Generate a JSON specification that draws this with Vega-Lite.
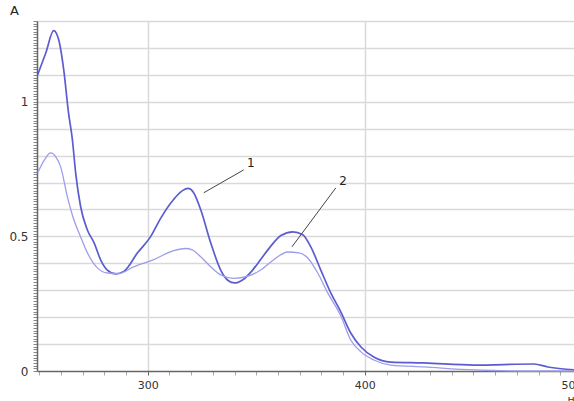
{
  "$schema": "https://vega.github.io/schema/vega-lite/v6.json",
  "width": 545,
  "height": 350,
  "autosize": {"type": "none"},
  "padding": {"left": 37, "top": 21, "right": -8, "bottom": 30},
  "background": "white",
  "config": {"view": {"stroke": null}, "font": "DejaVu Sans"},
  "datasets": {
    "curves": [
      {"wl": 249.3, "A": 1.100, "s": "1"},
      {"wl": 253.0, "A": 1.180, "s": "1"},
      {"wl": 256.7, "A": 1.264, "s": "1"},
      {"wl": 259.0, "A": 1.230, "s": "1"},
      {"wl": 261.3, "A": 1.119, "s": "1"},
      {"wl": 263.5, "A": 0.960, "s": "1"},
      {"wl": 265.3, "A": 0.859, "s": "1"},
      {"wl": 266.8, "A": 0.736, "s": "1"},
      {"wl": 269.1, "A": 0.610, "s": "1"},
      {"wl": 272.2, "A": 0.524, "s": "1"},
      {"wl": 275.3, "A": 0.476, "s": "1"},
      {"wl": 278.3, "A": 0.413, "s": "1"},
      {"wl": 281.4, "A": 0.375, "s": "1"},
      {"wl": 285.3, "A": 0.361, "s": "1"},
      {"wl": 289.0, "A": 0.370, "s": "1"},
      {"wl": 295.3, "A": 0.439, "s": "1"},
      {"wl": 301.4, "A": 0.500, "s": "1"},
      {"wl": 306.0, "A": 0.568, "s": "1"},
      {"wl": 312.0, "A": 0.638, "s": "1"},
      {"wl": 316.0, "A": 0.670, "s": "1"},
      {"wl": 318.6, "A": 0.678, "s": "1"},
      {"wl": 321.0, "A": 0.664, "s": "1"},
      {"wl": 324.4, "A": 0.599, "s": "1"},
      {"wl": 329.0, "A": 0.476, "s": "1"},
      {"wl": 333.6, "A": 0.375, "s": "1"},
      {"wl": 337.0, "A": 0.336, "s": "1"},
      {"wl": 340.0, "A": 0.327, "s": "1"},
      {"wl": 344.0, "A": 0.340, "s": "1"},
      {"wl": 348.0, "A": 0.372, "s": "1"},
      {"wl": 352.0, "A": 0.414, "s": "1"},
      {"wl": 356.5, "A": 0.462, "s": "1"},
      {"wl": 361.3, "A": 0.503, "s": "1"},
      {"wl": 366.8, "A": 0.517, "s": "1"},
      {"wl": 371.4, "A": 0.506, "s": "1"},
      {"wl": 375.1, "A": 0.461, "s": "1"},
      {"wl": 379.7, "A": 0.375, "s": "1"},
      {"wl": 384.3, "A": 0.290, "s": "1"},
      {"wl": 388.9, "A": 0.220, "s": "1"},
      {"wl": 393.5, "A": 0.141, "s": "1"},
      {"wl": 398.2, "A": 0.089, "s": "1"},
      {"wl": 404.1, "A": 0.052, "s": "1"},
      {"wl": 412.0, "A": 0.033, "s": "1"},
      {"wl": 427.2, "A": 0.030, "s": "1"},
      {"wl": 450.2, "A": 0.022, "s": "1"},
      {"wl": 477.9, "A": 0.026, "s": "1"},
      {"wl": 484.3, "A": 0.015, "s": "1"},
      {"wl": 496.3, "A": 0.004, "s": "1"},
      {"wl": 500.0, "A": 0.002, "s": "1"},
      {"wl": 249.3, "A": 0.736, "s": "2"},
      {"wl": 252.5, "A": 0.785, "s": "2"},
      {"wl": 255.3, "A": 0.810, "s": "2"},
      {"wl": 257.6, "A": 0.796, "s": "2"},
      {"wl": 259.9, "A": 0.758, "s": "2"},
      {"wl": 263.0, "A": 0.647, "s": "2"},
      {"wl": 266.0, "A": 0.561, "s": "2"},
      {"wl": 269.1, "A": 0.498, "s": "2"},
      {"wl": 272.2, "A": 0.439, "s": "2"},
      {"wl": 276.8, "A": 0.383, "s": "2"},
      {"wl": 281.4, "A": 0.364, "s": "2"},
      {"wl": 286.6, "A": 0.362, "s": "2"},
      {"wl": 293.5, "A": 0.387, "s": "2"},
      {"wl": 302.8, "A": 0.414, "s": "2"},
      {"wl": 312.0, "A": 0.447, "s": "2"},
      {"wl": 317.5, "A": 0.455, "s": "2"},
      {"wl": 320.5, "A": 0.450, "s": "2"},
      {"wl": 324.4, "A": 0.424, "s": "2"},
      {"wl": 329.0, "A": 0.387, "s": "2"},
      {"wl": 333.6, "A": 0.357, "s": "2"},
      {"wl": 339.6, "A": 0.344, "s": "2"},
      {"wl": 346.1, "A": 0.352, "s": "2"},
      {"wl": 352.0, "A": 0.375, "s": "2"},
      {"wl": 358.0, "A": 0.413, "s": "2"},
      {"wl": 364.5, "A": 0.442, "s": "2"},
      {"wl": 369.6, "A": 0.439, "s": "2"},
      {"wl": 373.7, "A": 0.420, "s": "2"},
      {"wl": 378.3, "A": 0.364, "s": "2"},
      {"wl": 382.9, "A": 0.290, "s": "2"},
      {"wl": 388.9, "A": 0.205, "s": "2"},
      {"wl": 393.5, "A": 0.115, "s": "2"},
      {"wl": 398.2, "A": 0.071, "s": "2"},
      {"wl": 404.1, "A": 0.041, "s": "2"},
      {"wl": 412.0, "A": 0.022, "s": "2"},
      {"wl": 427.2, "A": 0.015, "s": "2"},
      {"wl": 450.2, "A": 0.004, "s": "2"},
      {"wl": 473.3, "A": 0.000, "s": "2"},
      {"wl": 500.0, "A": 0.000, "s": "2"}
    ],
    "leaders": [
      {"wl": 325.8, "A": 0.662, "wl2": 344.2, "A2": 0.747},
      {"wl": 366.4, "A": 0.461, "wl2": 386.6, "A2": 0.680}
    ],
    "labels": [
      {"wl": 347.5, "A": 0.773, "t": "1"},
      {"wl": 389.9, "A": 0.706, "t": "2"}
    ]
  },
  "encoding": {
    "x": {
      "field": "wl", "type": "quantitative",
      "scale": {"domain": [249, 500], "nice": false, "zero": false},
      "axis": {
        "values": [250,260,270,280,290,300,310,320,330,340,350,360,370,380,390,400,410,420,430,440,450,460,470,480,490,500],
        "labelExpr": "datum.value % 100 == 0 ? datum.label : ''",
        "labelOverlap": false,
        "labelFontSize": 11,
        "labelColor": "#333",
        "labelPadding": 4,
        "labelAlign": {"condition": {"test": "datum.value == 500", "value": "right"}, "value": "center"},
        "labelFlush": false,
        "tickSize": 4,
        "tickColor": {"condition": {"test": "datum.value % 100 == 0", "value": "#666"}, "value": "#aaa"},
        "tickWidth": 1,
        "domainColor": "#666",
        "domainWidth": 1.5,
        "grid": true,
        "gridColor": "#d9d9d9",
        "gridWidth": 1.5,
        "gridOpacity": {"condition": {"test": "datum.value % 100 == 0", "value": 1}, "value": 0},
        "title": "нм",
        "titleX": 530,
        "titleY": 22,
        "titleAlign": "left",
        "titleBaseline": "top",
        "titleFontSize": 11,
        "titleFontWeight": "normal",
        "titleColor": "#333"
      }
    },
    "y": {
      "field": "A", "type": "quantitative",
      "scale": {"domain": [0, 1.3], "nice": false},
      "axis": {
        "values": [0,0.01,0.02,0.03,0.04,0.05,0.06,0.07,0.08,0.09,0.1,0.11,0.12,0.13,0.14,0.15,0.16,0.17,0.18,0.19,0.2,0.21,0.22,0.23,0.24,0.25,0.26,0.27,0.28,0.29,0.3,0.31,0.32,0.33,0.34,0.35,0.36,0.37,0.38,0.39,0.4,0.41,0.42,0.43,0.44,0.45,0.46,0.47,0.48,0.49,0.5,0.51,0.52,0.53,0.54,0.55,0.56,0.57,0.58,0.59,0.6,0.61,0.62,0.63,0.64,0.65,0.66,0.67,0.68,0.69,0.7,0.71,0.72,0.73,0.74,0.75,0.76,0.77,0.78,0.79,0.8,0.81,0.82,0.83,0.84,0.85,0.86,0.87,0.88,0.89,0.9,0.91,0.92,0.93,0.94,0.95,0.96,0.97,0.98,0.99,1,1.01,1.02,1.03,1.04,1.05,1.06,1.07,1.08,1.09,1.1,1.11,1.12,1.13,1.14,1.15,1.16,1.17,1.18,1.19,1.2,1.21,1.22,1.23,1.24,1.25,1.26,1.27,1.28,1.29,1.3],
        "labelExpr": "datum.value == 0 ? '0' : (abs(datum.value - 0.5) < 0.001 ? '0.5' : (abs(datum.value - 1) < 0.001 ? '1' : ''))",
        "labelOverlap": false,
        "labelFontSize": 12,
        "labelColor": "#333",
        "labelPadding": 5,
        "tickSize": 4,
        "tickColor": "#888",
        "tickWidth": 1,
        "domainColor": "#666",
        "domainWidth": 1.5,
        "grid": true,
        "gridColor": "#d9d9d9",
        "gridWidth": 1.5,
        "gridOpacity": {"condition": {"test": "datum.value > 0.05 && abs(datum.value * 10 - round(datum.value * 10)) < 0.001", "value": 1}, "value": 0},
        "title": "A",
        "titleAngle": 0,
        "titleX": -23,
        "titleY": -4,
        "titleAlign": "center",
        "titleBaseline": "bottom",
        "titleFontSize": 13,
        "titleFontWeight": "normal",
        "titleColor": "#222"
      }
    }
  },
  "layer": [
    {
      "data": {"name": "curves"},
      "mark": {"type": "line", "interpolate": "monotone"},
      "encoding": {
        "color": {"field": "s", "type": "nominal", "scale": {"domain": ["1", "2"], "range": ["#5c5cd2", "#9d9deb"]}, "legend": null},
        "strokeWidth": {"field": "s", "type": "nominal", "scale": {"domain": ["1", "2"], "range": [1.7, 1.3]}, "legend": null}
      }
    },
    {
      "data": {"name": "leaders"},
      "mark": {"type": "rule", "color": "#444", "strokeWidth": 1},
      "encoding": {
        "x2": {"field": "wl2"},
        "y2": {"field": "A2"}
      }
    },
    {
      "data": {"name": "labels"},
      "mark": {"type": "text", "fontSize": 12, "color": "#222", "align": "center", "baseline": "middle"},
      "encoding": {
        "text": {"field": "t"}
      }
    }
  ]
}
